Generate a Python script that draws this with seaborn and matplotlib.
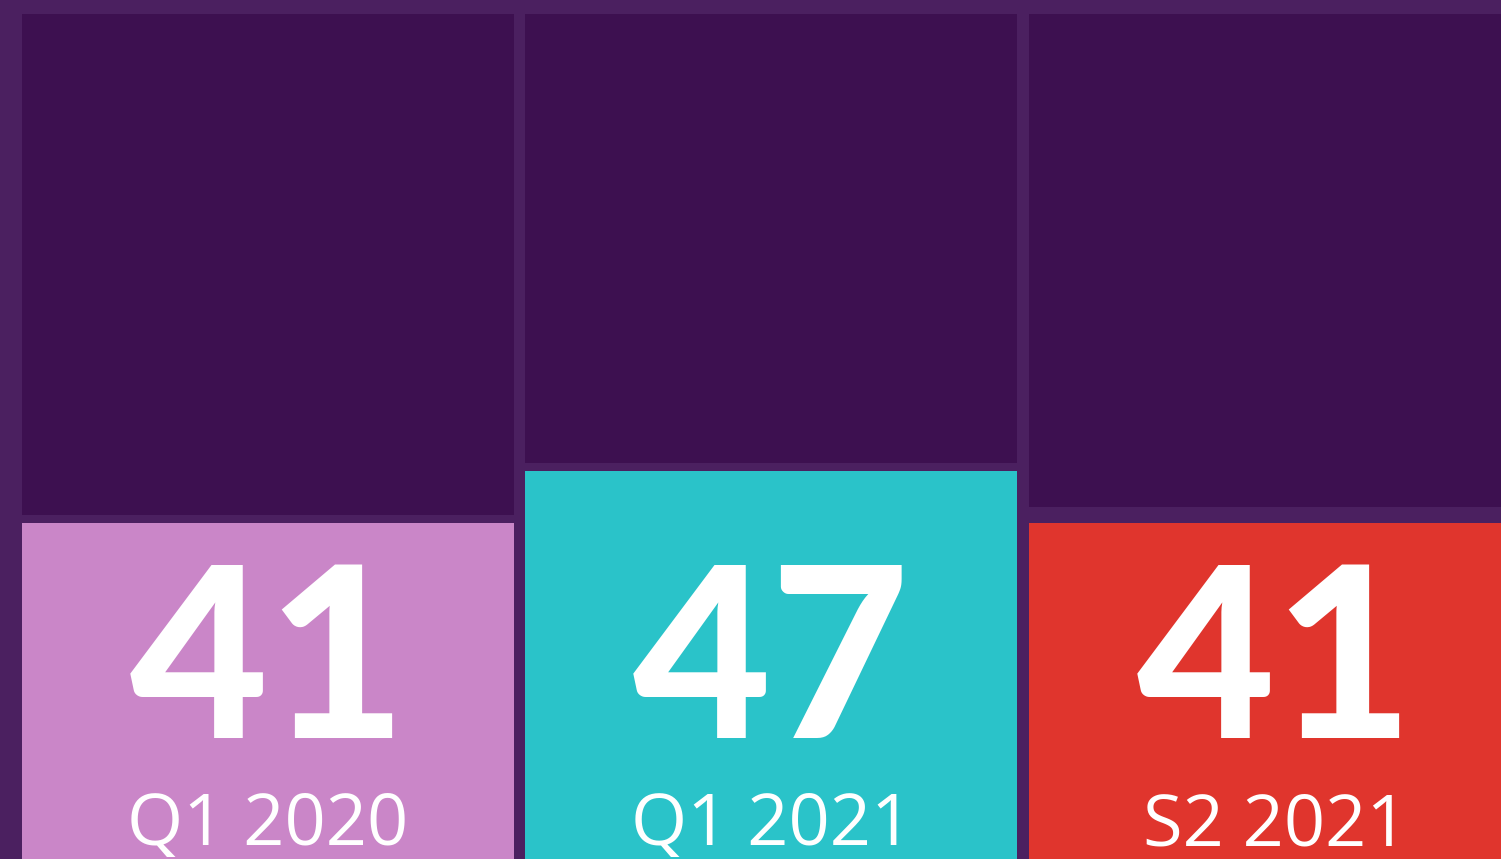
import matplotlib
matplotlib.use("Agg")
import matplotlib.pyplot as plt
import seaborn as sns
import pandas as pd

# data
periods = ["Q1 2020", "Q1 2021", "S2 2021"]
scores = [41, 47, 41]
total = [100, 100, 100]

# styling
bg = "#4b2060"
dark = "#3d1050"
bar_colors = ["#ca86c8", "#2ac3c9", "#e0352d"]
gaps = [0.93, 0.93, 1.86]

df = pd.DataFrame({"period": periods, "score": scores, "total": total})
df["score_gap"] = [s + g for s, g in zip(scores, gaps)]

sns.set_style("white")
fig = plt.figure(figsize=(15.01, 8.59), dpi=100, facecolor=bg)
ax = fig.add_axes([0, 0, 1, 1])
ax.set_facecolor(bg)

w = 0.977
sns.barplot(data=df, x="period", y="total", color=dark, width=w,
            saturation=1, linewidth=0, ax=ax)
sns.barplot(data=df, x="period", y="score_gap", color=bg, width=w,
            saturation=1, linewidth=0, ax=ax)
sns.barplot(data=df, x="period", y="score", hue="period", palette=bar_colors,
            width=w, saturation=1, linewidth=0, legend=False, ax=ax)

for i, (p, s) in enumerate(zip(periods, scores)):
    ax.text(i, 16.0, str(s), ha="center", va="baseline", color="white",
            fontsize=172, fontweight="black", family="Lato")
    ax.text(i, 3.6, p, ha="center", va="baseline", color="white",
            fontsize=52, family="Open Sans")

ax.set_xlim(-0.532, 2.449)
ax.set_ylim(2.0, 101.6)
ax.axis("off")

fig.savefig("out.png", dpi=100, facecolor=bg)
